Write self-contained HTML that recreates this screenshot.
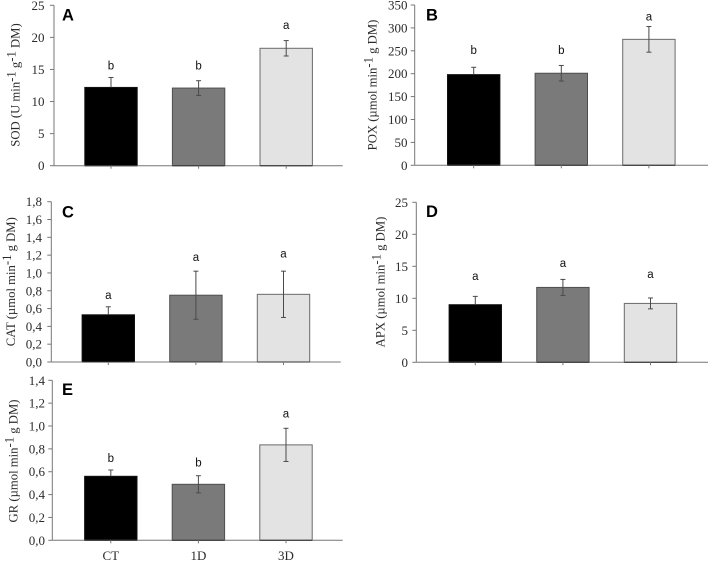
<!DOCTYPE html>
<html lang="en">
<head>
<meta charset="utf-8">
<title>Antioxidant enzyme activity bar charts</title>
<style>
html,body{margin:0;padding:0;background:#fff;width:708px;height:561px;overflow:hidden}
svg{display:block;filter:blur(0.3px)}
text{font-family:"Liberation Serif",serif;fill:#2b2b2b}
.tick{font-size:13px;text-anchor:end}
.cat{font-size:13px;text-anchor:middle}
.ytitle{font-size:12.7px;text-anchor:middle}
.sig{font-family:"Liberation Sans",sans-serif;font-size:11.5px;text-anchor:middle;fill:#111}
.panel{font-family:"Liberation Sans",sans-serif;font-size:16.5px;font-weight:bold;fill:#000}
</style>
</head>
<body>
<svg id="figure" xmlns="http://www.w3.org/2000/svg" width="708" height="561" viewBox="0 0 708 561"></svg>
<script>
// Shared categories
const categories = ['CT', '1D', '3D'];

// Panel A: SOD
const ticksA = ['0', '5', '10', '15', '20', '25'];
const valuesA = [12.2, 12.1, 18.3];
const errorsA = [1.55, 1.15, 1.2];
const lettersA = ['b', 'b', 'a'];
const letterLevelsA = [15.6, 15.6, 21.9];

// Panel B: POX
const ticksB = ['0', '50', '100', '150', '200', '250', '300', '350'];
const valuesB = [198, 201, 275];
const errorsB = [16, 17, 28];
const lettersB = ['b', 'b', 'a'];
const letterLevelsB = [251.7, 251.7, 325];

// Panel C: CAT
const ticksC = ['0,0', '0,2', '0,4', '0,6', '0,8', '1,0', '1,2', '1,4', '1,6', '1,8'];
const valuesC = [0.53, 0.75, 0.76];
const errorsC = [0.09, 0.27, 0.26];
const lettersC = ['a', 'a', 'a'];
const letterLevelsC = [0.75, 1.18, 1.22];

// Panel D: APX
const ticksD = ['0', '5', '10', '15', '20', '25'];
const valuesD = [9.0, 11.7, 9.2];
const errorsD = [1.3, 1.25, 0.85];
const lettersD = ['a', 'a', 'a'];
const letterLevelsD = [13.5, 15.5, 13.8];

// Panel E: GR
const ticksE = ['0,0', '0,2', '0,4', '0,6', '0,8', '1,0', '1,2', '1,4'];
const valuesE = [0.56, 0.49, 0.835];
const errorsE = [0.055, 0.075, 0.145];
const lettersE = ['b', 'b', 'a'];
const letterLevelsE = [0.72, 0.68, 1.11];

const NS = 'http://www.w3.org/2000/svg';
const figure = document.getElementById('figure');
const barFills = ['#000000', '#7a7a7a', '#e3e3e3'];
const barStrokes = ['#111111', '#4f4f4f', '#6a6a6a'];
const AXIS = '#777777';

function make(parent, tag, attrs, name) {
  const el = document.createElementNS(NS, tag);
  for (const key in attrs) el.setAttribute(key, attrs[key]);
  
  
  parent.appendChild(el);
  return el;
}

function drawPanel(p) {
  const g = make(figure, 'g', {}, 'panel-' + p.id.toLowerCase());
  const nums = p.ticks.map(t => Number(t.replace(',', '.')));
  const maxV = nums[nums.length - 1];
  const y = v => p.zero - (v / maxV) * (p.zero - p.top);
  const x = i => p.firstCenter + i * p.step;

  // bars
  p.values.forEach((v, i) => {
    make(g, 'rect', {
      x: x(i) - 26.2, y: y(v), width: 52.4, height: p.zero - y(v),
      fill: barFills[i], stroke: barStrokes[i], 'stroke-width': 1
    }, 'bar-' + categories[i].toLowerCase());
  });

  // axes
  make(g, 'line', {x1: p.axisX, y1: p.top, x2: p.axisX, y2: p.zero, stroke: AXIS, 'stroke-width': 1}, 'y-axis');
  make(g, 'line', {x1: p.axisX, y1: p.zero, x2: p.right, y2: p.zero, stroke: AXIS, 'stroke-width': 1}, 'x-axis');

  // dark base edge under each bar
  p.values.forEach((v, i) => {
    make(g, 'line', {x1: x(i) - 26.2, y1: p.zero, x2: x(i) + 26.2, y2: p.zero, stroke: '#333333', 'stroke-width': 1}, 'bar-base-edge');
  });

  // y ticks
  p.ticks.forEach((t, i) => {
    make(g, 'line', {x1: p.axisX - 4, y1: y(nums[i]), x2: p.axisX, y2: y(nums[i]), stroke: AXIS, 'stroke-width': 1}, 'y-tick');
    const label = make(g, 'text', {class: 'tick', x: p.labelX, y: y(nums[i]) + 4.5}, 'y-tick-label');
    label.textContent = t;
  });

  // x ticks and category labels
  categories.forEach((c, i) => {
    make(g, 'line', {x1: x(i), y1: p.zero, x2: x(i), y2: p.zero + 3, stroke: AXIS, 'stroke-width': 1}, 'x-tick');
    if (p.showCats) {
      const label = make(g, 'text', {class: 'cat', x: x(i), y: p.zero + 19.5}, 'x-tick-label');
      label.textContent = c;
    }
  });

  // error bars (the part inside the black bar is not visible in the figure)
  p.values.forEach((v, i) => {
    const hi = y(v + p.errors[i]);
    const lo = y(v - p.errors[i]);
    const stroke = '#4a4a4a';
    make(g, 'line', {x1: x(i), y1: hi, x2: x(i), y2: i === 0 ? y(v) : lo, stroke: stroke, 'stroke-width': 1}, 'error-bar');
    make(g, 'line', {x1: x(i) - 2.5, y1: hi, x2: x(i) + 2.5, y2: hi, stroke: stroke, 'stroke-width': 1}, 'error-cap-upper');
    make(g, 'line', {x1: x(i) - 2.5, y1: lo, x2: x(i) + 2.5, y2: lo, stroke: i === 0 ? '#000000' : stroke, 'stroke-width': 1}, 'error-cap-lower');
  });

  // significance letters
  p.letters.forEach((s, i) => {
    const label = make(g, 'text', {class: 'sig', x: x(i), y: y(p.levels[i]) + 4}, 'significance-letter');
    label.textContent = s;
  });

  // panel letter
  const tag = make(g, 'text', {class: 'panel', x: p.tagX, y: p.tagY}, 'panel-label');
  tag.textContent = p.id;

  // y axis title
  const title = make(g, 'text', {class: 'ytitle', transform: 'translate(' + p.titleX + ',' + p.titleY + ') rotate(-90)', x: 0, y: 0}, 'y-axis-title');
  const a = document.createElementNS(NS, 'tspan');
  a.textContent = p.title[0];
  title.appendChild(a);
  p.title.slice(1).forEach((part, i) => {
    const sp = document.createElementNS(NS, 'tspan');
    sp.textContent = part;
    sp.setAttribute('dy', i % 2 === 0 ? '-4' : '4');
    title.appendChild(sp);
  });
}

drawPanel({id: 'A', ticks: ticksA, values: valuesA, errors: errorsA, letters: lettersA, levels: letterLevelsA,
  axisX: 54, right: 342.7, top: 5.3, zero: 165.7, firstCenter: 111, step: 87.6, labelX: 44.5,
  tagX: 62, tagY: 20.7, titleX: 19.5, titleY: 85, title: ['SOD (U min', '-1', ' g', '-1', ' DM)']});

drawPanel({id: 'B', ticks: ticksB, values: valuesB, errors: errorsB, letters: lettersB, levels: letterLevelsB,
  axisX: 414.7, right: 708, top: 5, zero: 165.3, firstCenter: 473.7, step: 87.6, labelX: 407.5,
  tagX: 426, tagY: 20.3, titleX: 376.5, titleY: 85, title: ['POX (µmol min', '-1', ' g DM)']});

drawPanel({id: 'C', ticks: ticksC, values: valuesC, errors: errorsC, letters: lettersC, levels: letterLevelsC,
  axisX: 51.3, right: 340.7, top: 201.7, zero: 362, firstCenter: 108.3, step: 87.6, labelX: 42,
  tagX: 62, tagY: 217.3, titleX: 15, titleY: 281.7, title: ['CAT (µmol min', '-1', ' g DM)']});

drawPanel({id: 'D', ticks: ticksD, values: valuesD, errors: errorsD, letters: lettersD, levels: letterLevelsD,
  axisX: 416.3, right: 708, top: 202.3, zero: 362.3, firstCenter: 475.3, step: 87.6, labelX: 408,
  tagX: 426, tagY: 217, titleX: 384.5, titleY: 282, title: ['APX (µmol min', '-1', ' g DM)']});

drawPanel({id: 'E', ticks: ticksE, values: valuesE, errors: errorsE, letters: lettersE, levels: letterLevelsE,
  axisX: 52.3, right: 342.7, top: 380.3, zero: 540.3, firstCenter: 110.8, step: 87.6, labelX: 45,
  tagX: 62, tagY: 395, titleX: 17.5, titleY: 461, title: ['GR (µmol min', '-1', ' g DM)'], showCats: true});
</script>
</body>
</html>
